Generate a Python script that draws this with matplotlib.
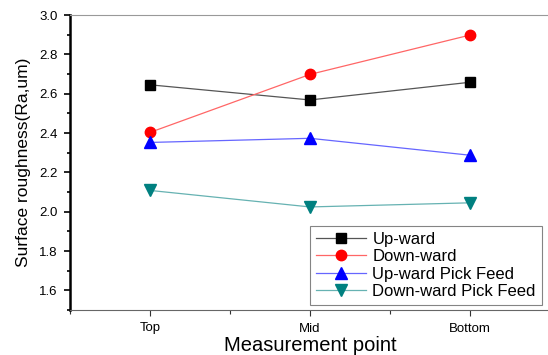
import matplotlib.pyplot as plt
from matplotlib.ticker import MultipleLocator

# data
points = ["Top", "Mid", "Bottom"]
up_ward = [2.645, 2.568, 2.658]
down_ward = [2.403, 2.698, 2.898]
up_pick = [2.352, 2.373, 2.287]
down_pick = [2.108, 2.024, 2.045]

plt.rcParams["font.family"] = ["Liberation Sans", "DejaVu Sans"]

fig = plt.figure(figsize=(5.48, 3.55), dpi=100)
ax = fig.add_axes([70 / 548, 45 / 355, 480 / 548, 295 / 355])

x = [1, 2, 3]
ax.plot(x, up_ward, "-s", color="#555555", mfc="black", mec="black", ms=6.5, lw=0.9, label="Up-ward")
ax.plot(x, down_ward, "-o", color="#ff6666", mfc="red", mec="red", ms=7.5, lw=0.9, label="Down-ward")
ax.plot(x, up_pick, "-^", color="#6666ff", mfc="blue", mec="blue", ms=8.5, lw=0.9, label="Up-ward Pick Feed")
ax.plot(x, down_pick, "-v", color="#66b2b2", mfc="#008080", mec="#008080", ms=8.5, lw=0.9, label="Down-ward Pick Feed")

ax.set_xlim(0.5, 3.5)
ax.set_ylim(1.5, 3.0)
ax.set_xticks(x)
ax.set_xticklabels(points)
ax.xaxis.set_minor_locator(MultipleLocator(0.5))
ax.yaxis.set_minor_locator(MultipleLocator(0.1))
ax.set_yticks([1.6, 1.8, 2.0, 2.2, 2.4, 2.6, 2.8, 3.0])
ax.yaxis.set_major_formatter(plt.FormatStrFormatter("%.1f"))

ax.tick_params(which="both", direction="out", labelsize=9.5)
ax.tick_params(axis="y", which="major", length=4, width=1.2, pad=5)
ax.tick_params(axis="y", which="minor", length=2.5, width=1.2)
ax.tick_params(axis="x", which="major", length=4, width=0.8, colors="#333333", labelcolor="black", pad=5)
ax.tick_params(axis="x", which="minor", length=3, width=0.8, colors="#333333")

ax.spines["left"].set_linewidth(1.8)
ax.spines["left"].set_color("black")
ax.spines["top"].set_color("#999999")
ax.spines["bottom"].set_color("#666666")
ax.spines["right"].set_visible(False)

ax.set_xlabel("Measurement point", fontsize=14.5, labelpad=1)
ax.set_ylabel("Surface roughness(Ra,um)", fontsize=12.5, labelpad=6)

leg = ax.legend(loc="lower left", fontsize=12, frameon=True, fancybox=False,
                handlelength=3.0, borderpad=0.35, labelspacing=0.15,
                handletextpad=0.4, borderaxespad=0)
leg.set_bbox_to_anchor((310 / 548, 50 / 355), transform=fig.transFigure)
leg.get_frame().set_edgecolor("#666666")
leg.get_frame().set_linewidth(0.8)

fig.savefig("out.png", dpi=100)
